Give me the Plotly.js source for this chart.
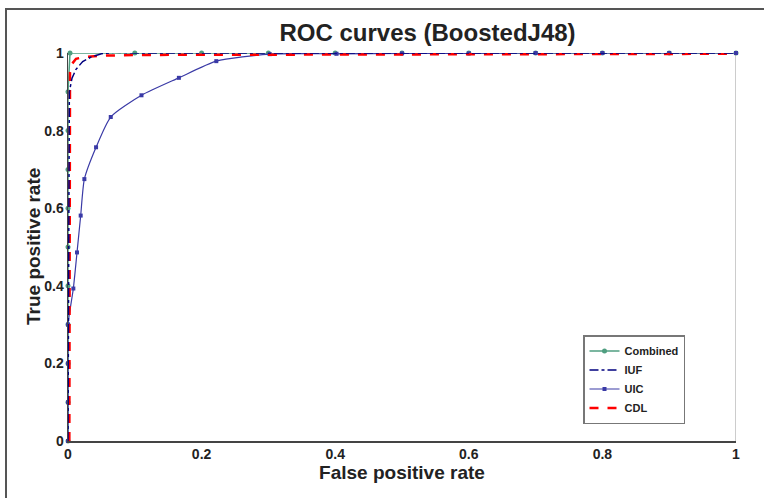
<!DOCTYPE html>
<html>
<head>
<meta charset="utf-8">
<script src="https://cdn.plot.ly/plotly-3.0.1.min.js"></script>
<style>
html,body{margin:0;padding:0;background:#fff;}
#wrap{position:relative;width:764px;height:498px;overflow:hidden;}
#chart{width:764px;height:498px;}
#frame{position:absolute;left:5px;top:8px;width:800px;height:600px;border-left:2px solid #555;border-top:2px solid #555;pointer-events:none;}
</style>
</head>
<body>
<div id="wrap"><div id="chart"></div><div id="frame"></div></div>
<script>
// Combined
var combinedX = [0, 0, 0, 0, 0, 0, 0, 0, 0, 0, 0.003, 0.1, 0.2, 0.3, 0.4, 0.5, 0.6, 0.7, 0.8, 0.9, 1.0];
var combinedY = [0, 0.1, 0.2, 0.3, 0.4, 0.5, 0.6, 0.7, 0.8, 0.9, 1, 1, 1, 1, 1, 1, 1, 1, 1, 1, 1];
// IUF
var iufX = [0, 0.001, 0.002, 0.006, 0.012, 0.022, 0.035, 0.05, 0.07, 0.1, 0.2, 0.3, 0.4, 0.5, 0.6, 0.7, 0.8, 0.9, 1.0];
var iufY = [0, 0.5, 0.9, 0.935, 0.958, 0.978, 0.99, 0.998, 1.002, 1, 1, 1, 1, 1, 1, 1, 1, 1, 1];
// UIC
var uicX = [0, 0, 0, 0, 0.008, 0.0135, 0.019, 0.0245, 0.042, 0.064, 0.110, 0.166, 0.222, 0.302, 0.402, 0.5, 0.6, 0.7, 0.8, 0.9, 1.0];
var uicY = [0, 0.1, 0.2, 0.3, 0.393, 0.486, 0.581, 0.675, 0.757, 0.835, 0.891, 0.936, 0.979, 0.997, 0.998, 0.999, 0.999, 1, 1, 1, 1];
// CDL
var cdlX = [0.002, 0.002, 0.002, 0.003, 0.006, 0.012, 0.025, 0.05, 0.1, 0.3, 0.6, 1.0];
var cdlY = [0, 0.5, 0.9, 0.95, 0.972, 0.985, 0.99, 0.993, 0.995, 0.996, 0.997, 0.998];

var fam = 'Liberation Sans, Arial, sans-serif';
var traces = [
  {x: combinedX, y: combinedY, name: 'Combined', legendrank: 1, mode: 'lines+markers', cliponaxis: false,
   line: {color: '#4f9e80', width: 1.5}, marker: {color: '#4f9e80', size: 5, symbol: 'circle'}},
  {x: uicX, y: uicY, name: 'UIC', legendrank: 3, mode: 'lines+markers', cliponaxis: false,
   line: {color: '#3a3aa6', width: 1.2, shape: 'spline', smoothing: 0.6},
   marker: {color: '#3a3aa6', size: 4, symbol: 'square'}},
  {x: cdlX, y: cdlY, name: 'CDL', legendrank: 4, mode: 'lines', line: {color: '#ff0000', width: 2.5, dash: 'dash'}},
  {x: iufX, y: iufY, name: 'IUF', legendrank: 2, mode: 'lines', line: {color: '#00007f', width: 1.5, dash: 'dashdot'}}
];

var tickFont = {family: fam, size: 14, color: '#222', weight: 'bold'};
var axTitleFont = {family: fam, size: 19, color: '#222', weight: 'bold'};
var layout = {
  width: 764, height: 498,
  margin: {l: 68, r: 28, t: 53, b: 57, autoexpand: false},
  paper_bgcolor: '#fff', plot_bgcolor: '#fff',
  title: {text: 'ROC curves (BoostedJ48)', x: 0.5596, xanchor: 'center', xref: 'container', y: 0.935, yref: 'container', yanchor: 'middle',
          font: {family: fam, size: 24, color: '#222', weight: 'bold'}},
  xaxis: {range: [0, 1], tickvals: [0, 0.2, 0.4, 0.6, 0.8, 1], ticktext: ['0', '0.2', '0.4', '0.6', '0.8', '1'],
          showgrid: false, zeroline: false, showline: true, linecolor: '#444', linewidth: 1.5, ticks: '',
          tickfont: tickFont, automargin: true,
          title: {text: 'False positive rate', standoff: 2, font: axTitleFont}},
  yaxis: {range: [0, 1], tickvals: [0, 0.2, 0.4, 0.6, 0.8, 1], ticktext: ['0', '0.2', '0.4', '0.6', '0.8', '1'],
          showgrid: false, zeroline: false, showline: true, linecolor: '#444', linewidth: 1.5, ticks: '',
          tickfont: tickFont, automargin: false},
  annotations: [{text: 'True positive rate', xref: 'paper', yref: 'paper', x: (33 - 68) / 668, y: 0.5,
                 xanchor: 'center', yanchor: 'middle', textangle: -90, showarrow: false, font: axTitleFont}],
  shapes: [{type: 'line', xref: 'x', yref: 'y', x0: 1, x1: 1, y0: 0, y1: 1, line: {color: '#bbbbbb', width: 1.5}, layer: 'below'}],
  showlegend: true,
  legend: {x: (583 - 68) / 668, xref: 'paper', y: (441 - 335) / 388, yref: 'paper', xanchor: 'left', yanchor: 'top',
           bgcolor: '#fff', bordercolor: '#777', borderwidth: 1.5, tracegroupgap: 0, itemwidth: 30,
           font: {family: fam, size: 11, color: '#222', weight: 'bold'}}
};

Plotly.newPlot('chart', traces, layout, {displayModeBar: false, staticPlot: true});
</script>
</body>
</html>
